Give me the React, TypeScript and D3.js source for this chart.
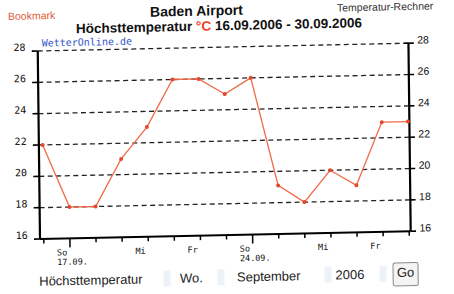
import React from "react";
import * as d3 from "d3";

const days = ["16.09.", "17.09.", "18.09.", "19.09.", "20.09.", "21.09.", "22.09.", "23.09.", "24.09.", "25.09.", "26.09.", "27.09.", "28.09.", "29.09.", "30.09."];
const maxTemp = [22, 18, 18, 21, 23, 26, 26, 25, 26, 19.1, 18, 20, 19, 23, 23];
const yTicks = [16, 18, 20, 22, 24, 26, 28];
const gridValues = [18, 20, 22, 24, 26, 28];
const weekLabels = [
  { day: "17.09.", name: "So", date: "17.09." },
  { day: "20.09.", name: "Mi", date: "" },
  { day: "22.09.", name: "Fr", date: "" },
  { day: "24.09.", name: "So", date: "24.09." },
  { day: "27.09.", name: "Mi", date: "" },
  { day: "29.09.", name: "Fr", date: "" },
];
const majorDays = ["17.09.", "24.09."];
const formItems = ["Höchsttemperatur", "Wo.", "September", "2006"];

const W = 454;
const H = 294;

export default function App() {
  const x = d3.scalePoint<string>().domain(days).range([43.8, 409.2]);
  const y = d3.scaleLinear().domain([16, 28]).range([239, 51]);
  const leftX = 40;
  const rightX = 410.7;
  const line = d3
    .line<number>()
    .x((_, i) => x(days[i]) as number)
    .y((d) => y(d));

  const mono = "'DejaVu Sans Mono', monospace";
  const sans = "'Liberation Sans', Arial, sans-serif";

  const formX = [38.7, 179.5, 236.5, 335];
  const boxX = [163, 217, 324, 379];

  return (
    <svg
      width={W}
      height={H}
      style={{ position: "absolute", left: 0, top: 0, background: "#fff" }}
    >
      <rect width={W} height={H} fill="#fff" />
      <g transform="translate(40,239) matrix(1,-0.021,0.012,1,0,0) translate(-40,-239)">
        {/* header */}
        <text x={10.6} y={19.3} fontFamily={sans} fontSize={10.5} fill="#e0603a">
          Bookmark
        </text>
        <text x={152.7} y={19} fontFamily={sans} fontSize={14} fontWeight="bold" fill="#111">
          Baden Airport
        </text>
        <text x={78.5} y={34.1} fontFamily={sans} fontSize={13.5} fontWeight="bold" fill="#111">
          Höchsttemperatur <tspan fill="#f03c1e">°C</tspan> 16.09.2006 - 30.09.2006
        </text>
        <text x={339.7} y={17.8} fontFamily={sans} fontSize={10.5} fill="#333">
          Temperatur-Rechner
        </text>

        {/* grid */}
        {gridValues.map((v) => (
          <line
            key={"g" + v}
            x1={leftX}
            x2={rightX}
            y1={y(v)}
            y2={y(v)}
            stroke="#222"
            strokeWidth={1.3}
            strokeDasharray="5,3.5"
          />
        ))}
        <text x={44} y={46.7} fontFamily={mono} fontSize={10} fill="#3355cc">
          WetterOnline.de
        </text>

        {/* axes */}
        <line x1={leftX} x2={leftX} y1={y(28)} y2={y(16)} stroke="#000" strokeWidth={2.2} />
        <line x1={rightX} x2={rightX} y1={y(28)} y2={y(16)} stroke="#000" strokeWidth={2.2} />
        <line x1={leftX} x2={rightX} y1={y(16)} y2={y(16)} stroke="#000" strokeWidth={2} />
        {yTicks.map((v) => (
          <g key={"t" + v}>
            <line x1={34} x2={leftX} y1={y(v)} y2={y(v)} stroke="#000" strokeWidth={1.6} />
            <line x1={v === 28 ? 406 : rightX} x2={416} y1={y(v)} y2={y(v)} stroke="#000" strokeWidth={1.6} />
            <text x={27.8} y={y(v) - 0.5} textAnchor="end" fontFamily={mono} fontSize={10} fill="#111">
              {v}
            </text>
            <text x={419.5} y={y(v) + 0.5} fontFamily={sans} fontSize={10.5} fill="#111">
              {v}
            </text>
          </g>
        ))}
        {days.map((dd) => (
          <line
            key={"x" + dd}
            x1={x(dd)}
            x2={x(dd)}
            y1={y(16)}
            y2={y(16) + (majorDays.includes(dd) ? 9 : 4.5)}
            stroke="#000"
            strokeWidth={1.5}
          />
        ))}
        {weekLabels.map((w) => (
          <text key={"wl" + w.day} fontFamily={mono} fontSize={8.5} fill="#111">
            <tspan x={(x(w.day) as number) - 13} y={255.9}>
              {w.name}
            </tspan>
            {w.date && (
              <tspan x={(x(w.day) as number) - 13} y={265.4}>
                {w.date}
              </tspan>
            )}
          </text>
        ))}

        {/* series */}
        <path d={line(maxTemp) || ""} fill="none" stroke="#f06a48" strokeWidth={1.3} />
        {maxTemp.map((v, i) => (
          <circle key={"p" + i} cx={x(days[i])} cy={y(v)} r={2} fill="#e4472a" />
        ))}

        {/* form */}
        {formItems.map((t, i) => (
          <text key={"f" + i} x={formX[i]} y={285.7} fontFamily={sans} fontSize={13} fill="#222">
            {t}
          </text>
        ))}
        {boxX.map((bx, i) => (
          <rect key={"b" + i} x={bx} y={273} width={7} height={16} fill="#edf2f9" />
        ))}
        <rect x={392.6} y={270.5} width={25} height={23} rx={2} fill="#f4f4f4" stroke="#8a8a8a" strokeWidth={1} />
        <text x={405.1} y={284.5} textAnchor="middle" fontFamily={sans} fontSize={13} fill="#222">
          Go
        </text>
      </g>
    </svg>
  );
}
